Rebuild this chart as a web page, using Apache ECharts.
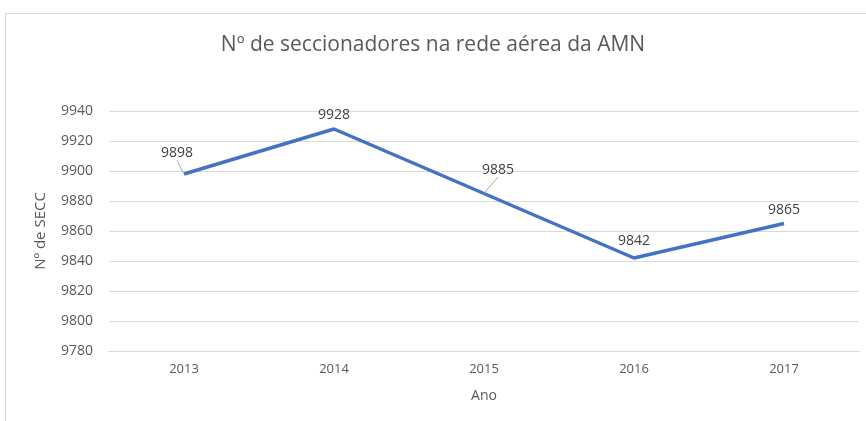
<!DOCTYPE html>
<html>
<head>
<meta charset="utf-8">
<script src="https://cdn.jsdelivr.net/npm/echarts@6/dist/echarts.min.js"></script>
<style>
  html, body { margin: 0; padding: 0; background: #fff; }
  #frame { position: absolute; left: 5px; top: 13px; width: 870px; height: 420px; border: 1px solid #d9d9d9; box-sizing: border-box; }
  #main { position: absolute; left: 0; top: 0; width: 866px; height: 421px; }
</style>
</head>
<body>
<div id="frame"></div>
<div id="main"></div>
<script>
// dados do gráfico
var anos = ['2013', '2014', '2015', '2016', '2017'];
var seccionadores = [9898, 9928, 9885, 9842, 9865];
var yMin = 9780, yMax = 9940, yStep = 20;

var chart = echarts.init(document.getElementById('main'), null, { renderer: 'canvas' });

// só os rótulos deslocados têm linha de chamada
var dados = seccionadores.map(function (v, i) {
  return { value: v, labelLine: { show: i === 0 || i === 2 } };
});

var option = {
  animation: false,
  title: {
    text: 'Nº de seccionadores na rede aérea da AMN',
    left: 'center',
    top: 30,
    textStyle: { fontFamily: 'Open Sans', fontSize: 21, fontWeight: 'normal', color: '#595959' }
  },
  grid: { left: 109, right: 7, top: 111, bottom: 70 },
  xAxis: {
    type: 'category',
    data: anos,
    boundaryGap: true,
    name: 'Ano',
    nameLocation: 'middle',
    nameGap: 38,
    nameTextStyle: { fontFamily: 'Open Sans', fontSize: 14, color: '#595959' },
    axisLine: { lineStyle: { color: '#d9d9d9', width: 1 } },
    axisTick: { show: false },
    axisLabel: { fontFamily: 'Open Sans', fontSize: 13, color: '#595959', margin: 12 }
  },
  yAxis: {
    type: 'value',
    min: yMin,
    max: yMax,
    interval: yStep,
    name: 'Nº de SECC',
    nameLocation: 'middle',
    nameGap: 61,
    nameTextStyle: { fontFamily: 'Open Sans', fontSize: 15, color: '#595959' },
    axisLine: { show: false },
    axisTick: { show: false },
    axisLabel: {
      fontFamily: 'Open Sans', fontSize: 14, color: '#595959', margin: 16,
      formatter: function (v) { return String(v); }
    },
    splitLine: { lineStyle: { color: '#d9d9d9', width: 1 } }
  },
  series: [{
    type: 'line',
    data: dados,
    showSymbol: true,
    symbol: 'circle',
    symbolSize: 1,
    itemStyle: { color: 'rgba(68,114,196,0)', borderWidth: 0 },
    lineStyle: { color: '#4472C4', width: 3.5 },
    label: {
      show: true,
      position: 'top',
      distance: 6,
      fontFamily: 'Open Sans',
      fontSize: 14,
      color: '#404040'
    },
    labelLine: { lineStyle: { color: '#a6a6a6', width: 1 } },
    labelLayout: function (p) {
      if (p.dataIndex === 0) return { dx: -7, dy: -7 };
      if (p.dataIndex === 2) return { dx: 14, dy: -10 };
      if (p.dataIndex === 3) return { dy: -3 };
      return {};
    }
  }]
};

chart.setOption(option);
</script>
</body>
</html>
